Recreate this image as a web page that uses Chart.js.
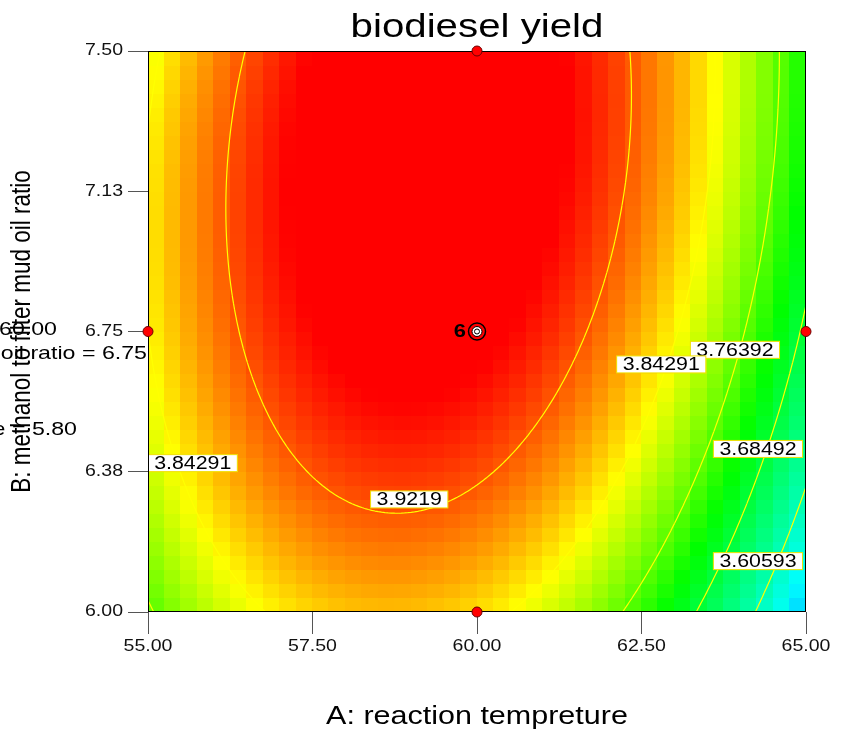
<!DOCTYPE html>
<html>
<head>
<meta charset="utf-8">
<title>biodiesel yield</title>
<script src="https://cdn.jsdelivr.net/npm/chart.js@4.4.1/dist/chart.umd.min.js"></script>
<style>
  html, body { margin: 0; padding: 0; background: #fff; }
  #wrap { width: 841px; height: 736px; }
</style>
</head>
<body>
<div id="wrap"><canvas id="contour"></canvas></div>
<script>
// factor ranges (actual units)
const tempRange = [55, 65];
const ratioRange = [6, 7.5];

const xTicks = [55, 57.5, 60, 62.5, 65];
const xTickLabels = ['55.00', '57.50', '60.00', '62.50', '65.00'];
const yTicks = [6, 6.375, 6.75, 7.125, 7.5];
const yTickLabels = ['6.00', '6.38', '6.75', '7.13', '7.50'];

// fitted quadratic, coded units: b0, A, B, AB, A^2, B^2
const modelCoefs = [3.9735, -0.0835, 0.0675, 0.0321, -0.2141, -0.0490];

const contourLevels = [3.60593, 3.68492, 3.76392, 3.84291, 3.9219];

// colour ramp: blue -> cyan -> green -> yellow -> red
const rampValues = [3.44, 3.56, 3.721, 3.842, 3.963];
const rampColors = [[0, 0, 255], [0, 255, 255], [0, 255, 0], [255, 255, 0], [255, 0, 0]];

// design points (edge runs + centre run)
const designTemp = [55, 65, 60, 60];
const designRatio = [6.75, 6.75, 6.0, 7.5];
const centerTemp = [60];
const centerRatio = [6.75];
const centerRuns = '6';

// fixed factor readout on the left
const factorLines = [
  'A: reaction tempreture = 60.00',
  'B: methanol to filter mud oil ratio = 6.75',
  'C: catalyst to mud oil rate = 5.80'
];

// where each contour value is written (index into contourLevels)
const labelSpots = [
  { level: 3, temp: 55.68, ratio: 6.398 },
  { level: 4, temp: 58.97, ratio: 6.301 },
  { level: 2, temp: 63.92, ratio: 6.701 },
  { level: 3, temp: 62.80, ratio: 6.662 },
  { level: 1, temp: 64.27, ratio: 6.436 },
  { level: 0, temp: 64.27, ratio: 6.136 }
];

const GRID = 40;      // coloured cells per side
const FINE = 200;     // contour tracing resolution
const SX = 1.22;      // horizontal text stretch

function predict(temp, ratio) {
  const a = (temp - (tempRange[0] + tempRange[1]) / 2) / ((tempRange[1] - tempRange[0]) / 2);
  const b = (ratio - (ratioRange[0] + ratioRange[1]) / 2) / ((ratioRange[1] - ratioRange[0]) / 2);
  const [b0, bA, bB, bAB, bAA, bBB] = modelCoefs;
  return b0 + bA * a + bB * b + bAB * a * b + bAA * a * a + bBB * b * b;
}

function rampColor(v) {
  const n = rampValues.length;
  if (v <= rampValues[0]) return 'rgb(' + rampColors[0].join(',') + ')';
  for (let k = 1; k < n; k++) {
    if (v <= rampValues[k]) {
      const t = (v - rampValues[k - 1]) / (rampValues[k] - rampValues[k - 1]);
      const c0 = rampColors[k - 1], c1 = rampColors[k];
      const c = c0.map((ch, i) => Math.round(ch + (c1[i] - ch) * t));
      return 'rgb(' + c.join(',') + ')';
    }
  }
  return 'rgb(' + rampColors[n - 1].join(',') + ')';
}

const canvas = document.getElementById('contour');
const ctx2d = canvas.getContext('2d');

// stretch every string sideways, rotated ones across their height
const plainFill = ctx2d.fillText;
ctx2d.fillText = function (text, px, py, maxWidth) {
  const m = this.getTransform();
  this.save();
  this.translate(px, py);
  if (Math.abs(m.b) > Math.abs(m.a)) this.scale(1, SX);
  else this.scale(SX, 1);
  if (maxWidth === undefined) plainFill.call(this, text, 0, 0);
  else plainFill.call(this, text, 0, 0, maxWidth / SX);
  this.restore();
};

const surfacePlugin = {
  id: 'surface',
  beforeDatasetsDraw(chart) {
    const { ctx, chartArea: area, scales: { x, y } } = chart;
    ctx.save();
    ctx.beginPath();
    ctx.rect(area.left, area.top, area.width, area.height);
    ctx.clip();

    // coloured cells
    const dA = (tempRange[1] - tempRange[0]) / GRID;
    const dB = (ratioRange[1] - ratioRange[0]) / GRID;
    for (let i = 0; i < GRID; i++) {
      for (let j = 0; j < GRID; j++) {
        const a0 = tempRange[0] + i * dA;
        const r0 = ratioRange[0] + j * dB;
        const x0 = Math.floor(x.getPixelForValue(a0));
        const x1 = Math.ceil(x.getPixelForValue(a0 + dA));
        const y0 = Math.floor(y.getPixelForValue(r0 + dB));
        const y1 = Math.ceil(y.getPixelForValue(r0));
        ctx.fillStyle = rampColor(predict(a0 + dA / 2, r0 + dB / 2));
        ctx.fillRect(x0, y0, x1 - x0, y1 - y0);
      }
    }

    // contour lines, marching squares
    const fA = (tempRange[1] - tempRange[0]) / FINE;
    const fB = (ratioRange[1] - ratioRange[0]) / FINE;
    const vals = [];
    for (let j = 0; j <= FINE; j++) {
      vals.push([]);
      for (let i = 0; i <= FINE; i++) {
        vals[j].push(predict(tempRange[0] + i * fA, ratioRange[0] + j * fB));
      }
    }
    ctx.strokeStyle = '#ffff00';
    ctx.lineWidth = 1.2;
    contourLevels.forEach(level => {
      ctx.beginPath();
      for (let j = 0; j < FINE; j++) {
        for (let i = 0; i < FINE; i++) {
          const a0 = tempRange[0] + i * fA, a1 = a0 + fA;
          const r0 = ratioRange[0] + j * fB, r1 = r0 + fB;
          const v00 = vals[j][i], v10 = vals[j][i + 1];
          const v01 = vals[j + 1][i], v11 = vals[j + 1][i + 1];
          const pts = [];
          if ((v00 - level) * (v10 - level) < 0) pts.push([a0 + fA * (level - v00) / (v10 - v00), r0]);
          if ((v10 - level) * (v11 - level) < 0) pts.push([a1, r0 + fB * (level - v10) / (v11 - v10)]);
          if ((v01 - level) * (v11 - level) < 0) pts.push([a0 + fA * (level - v01) / (v11 - v01), r1]);
          if ((v00 - level) * (v01 - level) < 0) pts.push([a0, r0 + fB * (level - v00) / (v01 - v00)]);
          for (let k = 0; k + 1 < pts.length; k += 2) {
            ctx.moveTo(x.getPixelForValue(pts[k][0]), y.getPixelForValue(pts[k][1]));
            ctx.lineTo(x.getPixelForValue(pts[k + 1][0]), y.getPixelForValue(pts[k + 1][1]));
          }
        }
      }
      ctx.stroke();
    });

    // contour value boxes
    ctx.font = '17.5px "Liberation Sans", Arial, sans-serif';
    ctx.textAlign = 'center';
    ctx.textBaseline = 'middle';
    labelSpots.forEach(spot => {
      const text = String(contourLevels[spot.level]);
      const cx = x.getPixelForValue(spot.temp);
      const cy = y.getPixelForValue(spot.ratio);
      const w = ctx.measureText(text).width * SX + 12;
      const h = 17;
      ctx.fillStyle = '#ffffff';
      ctx.fillRect(cx - w / 2, cy - h / 2, w, h);
      ctx.strokeStyle = '#f0e000';
      ctx.lineWidth = 1;
      ctx.strokeRect(cx - w / 2, cy - h / 2, w, h);
      ctx.fillStyle = '#000';
      ctx.fillText(text, cx, cy + 1);
    });
    ctx.restore();

    // plot frame
    ctx.save();
    ctx.strokeStyle = '#000';
    ctx.lineWidth = 1;
    ctx.strokeRect(area.left + 0.5, area.top + 0.5, area.width - 1, area.height - 1);
    ctx.restore();
  },
  afterDatasetsDraw(chart) {
    const { ctx, scales: { x, y } } = chart;
    ctx.save();
    ctx.font = 'bold 18px "Liberation Sans", Arial, sans-serif';
    ctx.textAlign = 'right';
    ctx.textBaseline = 'middle';
    ctx.fillStyle = '#000';
    ctx.fillText(centerRuns, x.getPixelForValue(centerTemp[0]) - 11, y.getPixelForValue(centerRatio[0]) + 1);
    ctx.restore();
  },
  afterDraw(chart) {
    const ctx = chart.ctx;
    ctx.save();
    ctx.font = '19px "Liberation Sans", Arial, sans-serif';
    ctx.textAlign = 'right';
    ctx.textBaseline = 'middle';
    ctx.fillStyle = '#000';
    ctx.fillText(factorLines[0], 57, 330);
    ctx.fillText(factorLines[1], 147, 354);
    ctx.fillText(factorLines[2], 77, 430);
    ctx.restore();
  }
};

Chart.defaults.font.family = '"Liberation Sans", Arial, sans-serif';
Chart.defaults.color = '#000';

new Chart(canvas, {
  type: 'scatter',
  data: {
    datasets: [
      {
        label: 'centre core',
        data: centerTemp.map((t, i) => ({ x: t, y: centerRatio[i] })),
        pointRadius: 2.5,
        backgroundColor: '#ffffff',
        borderColor: '#000',
        borderWidth: 1,
        clip: false,
        order: 0
      },
      {
        label: 'centre ring',
        data: centerTemp.map((t, i) => ({ x: t, y: centerRatio[i] })),
        pointRadius: 5,
        backgroundColor: '#ffffff',
        borderColor: '#000',
        borderWidth: 1,
        clip: false,
        order: 1
      },
      {
        label: 'centre point',
        data: centerTemp.map((t, i) => ({ x: t, y: centerRatio[i] })),
        pointRadius: 8.5,
        backgroundColor: '#ff0000',
        borderColor: '#000',
        borderWidth: 1.5,
        clip: false,
        order: 2
      },
      {
        label: 'design points',
        data: designTemp.map((t, i) => ({ x: t, y: designRatio[i] })),
        pointRadius: 5,
        backgroundColor: '#ff0000',
        borderColor: '#6a0000',
        borderWidth: 1,
        clip: false,
        order: 3
      }
    ]
  },
  options: {
    responsive: true,
    maintainAspectRatio: false,
    animation: false,
    events: [],
    layout: { padding: { left: 0, right: 35, top: 0, bottom: 0 } },
    plugins: {
      legend: { display: false },
      tooltip: { enabled: false },
      title: {
        display: true,
        text: 'biodiesel yield',
        fullSize: false,
        color: '#000',
        font: { size: 33, weight: 'normal' },
        padding: { top: 8, bottom: 3.4 }
      }
    },
    scales: {
      x: {
        type: 'linear',
        min: tempRange[0],
        max: tempRange[1],
        afterBuildTicks: s => { s.ticks = xTicks.map(v => ({ value: v })); },
        afterFit: s => { s.height = 124; },
        ticks: {
          autoSkip: false,
          maxRotation: 0,
          padding: 3,
          color: '#111',
          font: { size: 16 },
          callback: v => xTickLabels[xTicks.indexOf(v)]
        },
        grid: { drawOnChartArea: false, tickLength: 22, color: '#555' },
        border: { display: false },
        title: {
          display: true,
          text: 'A: reaction tempreture',
          color: '#000',
          font: { size: 25 },
          padding: { top: 0, bottom: 4 }
        }
      },
      y: {
        type: 'linear',
        min: ratioRange[0],
        max: ratioRange[1],
        afterBuildTicks: s => { s.ticks = yTicks.map(v => ({ value: v })); },
        afterFit: s => { s.width = 148; },
        ticks: {
          autoSkip: false,
          padding: 5,
          color: '#111',
          font: { size: 16 },
          callback: v => yTickLabels[yTicks.indexOf(v)]
        },
        grid: { drawOnChartArea: false, tickLength: 20, color: '#555' },
        border: { display: false },
        title: {
          display: true,
          text: 'B: methanol to filter mud oil ratio',
          color: '#000',
          font: { size: 22.5 },
          padding: { top: 8.5, bottom: 0 }
        }
      }
    }
  },
  plugins: [surfacePlugin]
});
</script>
</body>
</html>
